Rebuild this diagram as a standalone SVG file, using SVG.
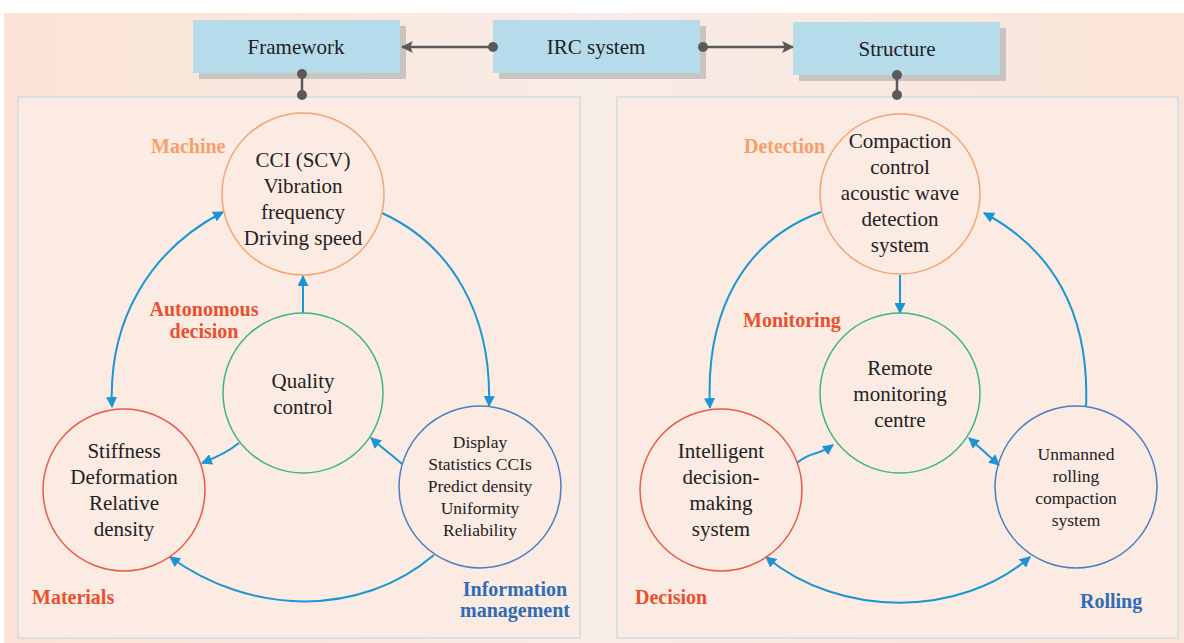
<svg xmlns="http://www.w3.org/2000/svg" width="1184" height="643" viewBox="0 0 1184 643">
<defs>
<linearGradient id="bg" x1="0" y1="0" x2="1" y2="0">
<stop offset="0" stop-color="#fbe3d6"/>
<stop offset="0.5" stop-color="#f8ece6"/>
<stop offset="1" stop-color="#fbe4d8"/>
</linearGradient>
<marker id="ah" viewBox="0 0 10 10" refX="9" refY="5" markerWidth="11" markerHeight="11" markerUnits="userSpaceOnUse" orient="auto-start-reverse">
<path d="M0,0 L10,5 L0,10 Z" fill="#1a96d6"/>
</marker>
<marker id="dk" viewBox="0 0 10 10" refX="9" refY="5" markerWidth="12" markerHeight="12" markerUnits="userSpaceOnUse" orient="auto-start-reverse">
<path d="M0,0 L10,5 L0,10 L2,5 Z" fill="#5a5a5a"/>
</marker>
</defs>
<style>
.box{fill:#b6dbea;}
.shadow{fill:#c9c4c0;}
text{font-family:"Liberation Serif","Times New Roman","DejaVu Serif",serif;}
.bt{font-size:21px;fill:#222;text-anchor:middle;}
.nt{font-size:21px;fill:#222;text-anchor:middle;}
.st{font-size:17.5px;fill:#222;text-anchor:middle;}
.lb{font-size:20px;font-weight:bold;}
.panel{fill:#fbebe2;stroke:#cfdce4;stroke-width:1.5;}
.c{fill:none;stroke-width:1.5;}
.arr{fill:none;stroke:#1a96d6;stroke-width:2;}
.dl{stroke:#5a5a5a;stroke-width:2.5;fill:none;}
.dot{fill:#5a5a5a;}
</style>
<rect x="0" y="0" width="1184" height="643" fill="#ffffff"/>
<rect x="4" y="13" width="1180" height="630" fill="url(#bg)"/>
<rect class="panel" x="18" y="97" width="562" height="541"/>
<rect class="panel" x="617" y="97" width="561" height="541"/>

<g id="framework">
<rect class="shadow" x="199" y="26" width="207" height="53"/>
<rect class="box" x="193" y="20" width="207" height="53"/>
<text class="bt" x="296" y="54">Framework</text>
</g>
<g id="irc">
<rect class="shadow" x="499" y="26" width="207" height="53"/>
<rect class="box" x="493" y="20" width="207" height="53"/>
<text class="bt" x="596" y="54">IRC system</text>
</g>
<g id="structure">
<rect class="shadow" x="799" y="28" width="207" height="53"/>
<rect class="box" x="793" y="22" width="207" height="53"/>
<text class="bt" x="897" y="56">Structure</text>
</g>

<g id="connectors">
<path class="dl" d="M493,47 L402,47" marker-end="url(#dk)"/>
<path class="dl" d="M703,47 L793,47" marker-end="url(#dk)"/>
<circle class="dot" cx="493" cy="47" r="5"/>
<circle class="dot" cx="703" cy="47" r="5"/>
<path class="dl" d="M302,74 L302,95"/>
<circle class="dot" cx="302" cy="74" r="5"/>
<circle class="dot" cx="302" cy="95" r="5"/>
<path class="dl" d="M897,75 L897,95"/>
<circle class="dot" cx="897" cy="75" r="5"/>
<circle class="dot" cx="897" cy="95" r="5"/>

<path class="arr" d="M112,407 C108,320 150,250 223,212" marker-start="url(#ah)" marker-end="url(#ah)"/>
<path class="arr" d="M382,213 C452,245 492,315 489,406" marker-end="url(#ah)"/>
<path class="arr" d="M303,313 L303,276" marker-end="url(#ah)"/>
<path class="arr" d="M239,443 C228,452 215,458 202,463" marker-end="url(#ah)"/>
<path class="arr" d="M402,464 C392,455 381,447 371,438" marker-end="url(#ah)"/>
<path class="arr" d="M434,555 C360,618 250,615 170,557" marker-end="url(#ah)"/>

<path class="arr" d="M821,212 C745,240 705,310 710,408" marker-end="url(#ah)"/>
<path class="arr" d="M1086,407 C1090,310 1050,248 984,213" marker-end="url(#ah)"/>
<path class="arr" d="M900,275 L900,313" marker-end="url(#ah)"/>
<path class="arr" d="M797,463 C812,450 816,457 833,445" marker-end="url(#ah)"/>
<path class="arr" d="M969,438 L999,465" marker-start="url(#ah)" marker-end="url(#ah)"/>
<path class="arr" d="M766,557 C840,618 960,618 1030,557" marker-start="url(#ah)" marker-end="url(#ah)"/>
</g>

<g id="machine">
<circle class="c" cx="303" cy="194" r="81" stroke="#f5a574"/>
<text class="nt" x="303" y="167">CCI (SCV)</text>
<text class="nt" x="303" y="193">Vibration</text>
<text class="nt" x="303" y="219">frequency</text>
<text class="nt" x="303" y="245">Driving speed</text>
<text class="lb" x="151" y="153" fill="#f5a06a">Machine</text>
</g>
<g id="quality">
<circle class="c" cx="303" cy="393" r="80" stroke="#3cb878"/>
<text class="nt" x="303" y="388">Quality</text>
<text class="nt" x="303" y="414">control</text>
<text class="lb" x="204" y="316" fill="#e8502f" text-anchor="middle">Autonomous</text>
<text class="lb" x="204" y="338" fill="#e8502f" text-anchor="middle">decision</text>
</g>
<g id="materials">
<circle class="c" cx="124" cy="490" r="81" stroke="#ea5b48"/>
<text class="nt" x="124" y="458">Stiffness</text>
<text class="nt" x="124" y="484">Deformation</text>
<text class="nt" x="124" y="510">Relative</text>
<text class="nt" x="124" y="536">density</text>
<text class="lb" x="32" y="604" fill="#e8502f">Materials</text>
</g>
<g id="information">
<circle class="c" cx="480" cy="487" r="81" stroke="#4a7fc4"/>
<text class="st" x="480" y="448">Display</text>
<text class="st" x="480" y="470">Statistics CCIs</text>
<text class="st" x="480" y="492">Predict density</text>
<text class="st" x="480" y="514">Uniformity</text>
<text class="st" x="480" y="536">Reliability</text>
<text class="lb" x="515" y="596" fill="#2f6cb5" text-anchor="middle">Information</text>
<text class="lb" x="515" y="617" fill="#2f6cb5" text-anchor="middle">management</text>
</g>

<g id="detection">
<circle class="c" cx="900" cy="194" r="80" stroke="#f5a574"/>
<text class="nt" x="900" y="148">Compaction</text>
<text class="nt" x="900" y="174">control</text>
<text class="nt" x="900" y="200">acoustic wave</text>
<text class="nt" x="900" y="226">detection</text>
<text class="nt" x="900" y="252">system</text>
<text class="lb" x="744" y="153" fill="#f5a06a">Detection</text>
</g>
<g id="monitoring">
<circle class="c" cx="900" cy="393" r="80" stroke="#3cb878"/>
<text class="nt" x="900" y="375">Remote</text>
<text class="nt" x="900" y="401">monitoring</text>
<text class="nt" x="900" y="427">centre</text>
<text class="lb" x="743" y="327" fill="#e8502f">Monitoring</text>
</g>
<g id="decision">
<circle class="c" cx="721" cy="490" r="81" stroke="#ea5b48"/>
<text class="nt" x="721" y="458">Intelligent</text>
<text class="nt" x="721" y="484">decision-</text>
<text class="nt" x="721" y="510">making</text>
<text class="nt" x="721" y="536">system</text>
<text class="lb" x="635" y="604" fill="#e8502f">Decision</text>
</g>
<g id="rolling">
<circle class="c" cx="1076" cy="487" r="81" stroke="#4a7fc4"/>
<text class="st" x="1076" y="460">Unmanned</text>
<text class="st" x="1076" y="482">rolling</text>
<text class="st" x="1076" y="504">compaction</text>
<text class="st" x="1076" y="526">system</text>
<text class="lb" x="1080" y="608" fill="#2f6cb5">Rolling</text>
</g>
</svg>
